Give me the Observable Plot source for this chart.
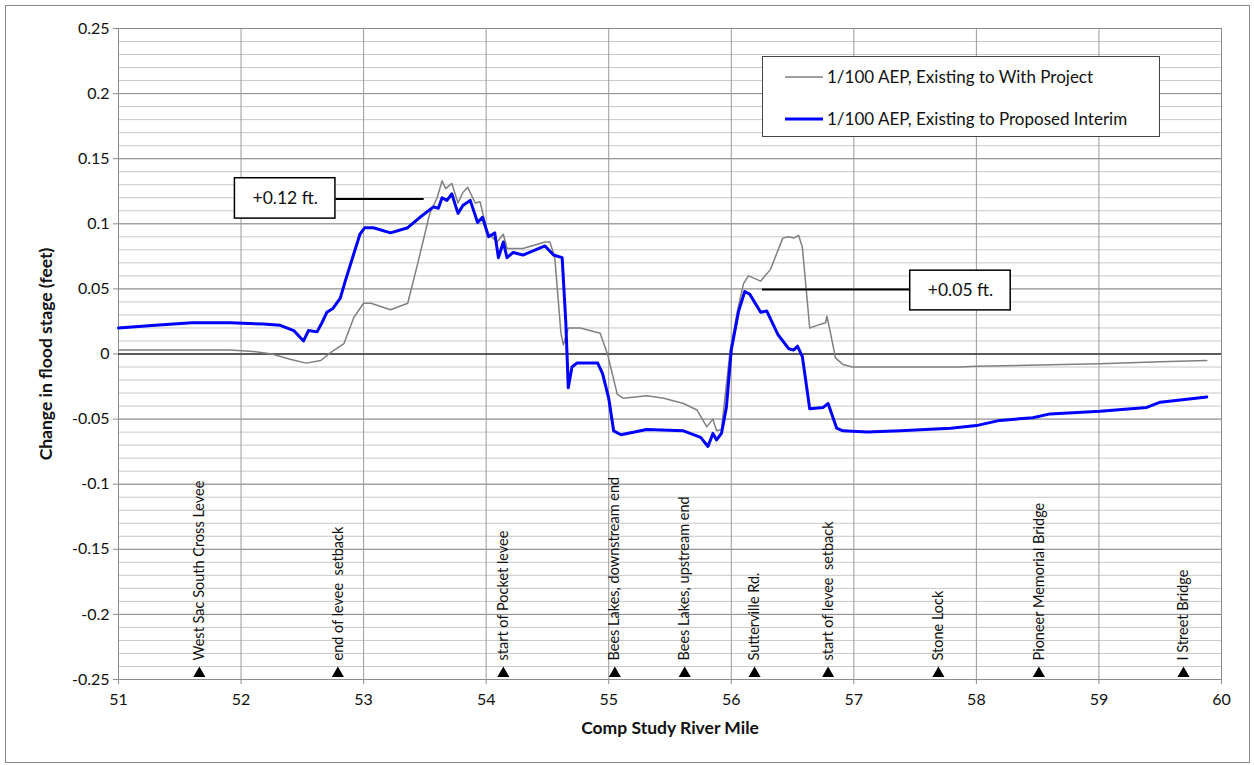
<!DOCTYPE html>
<html>
<head>
<meta charset="utf-8">
<script src="https://cdn.jsdelivr.net/npm/d3@7"></script>
<script src="https://cdn.jsdelivr.net/npm/@observablehq/plot@0.6"></script>
<style>
  html, body { margin: 0; padding: 0; background: #fff; }
  #wrap { position: relative; width: 1254px; height: 765px; font-family: Lato, "Open Sans", sans-serif; }
  #border { position: absolute; left: 5px; top: 5px; width: 1243px; height: 756px; border: 1px solid #8a8a8a; pointer-events: none; }
  #legend { position: absolute; left: 762px; top: 56px; width: 396px; height: 79px; border: 1px solid #444; background: #fff; font-size: 17px; color: #111; }
  .item { position: absolute; left: 22px; display: flex; align-items: center; }
  .item svg { margin-right: 4px; }
</style>
</head>
<body>
<div id="wrap">
  <div id="chart"></div>
  <div id="border"></div>
  <div id="legend"></div>
</div>
<script>
// ---- Data ----
const withProjectMile = [51.00,51.30,51.60,51.91,52.10,52.25,52.40,52.53,52.65,52.73,52.84,52.92,53.00,53.06,53.22,53.36,53.44,53.54,53.60,53.64,53.67,53.72,53.77,53.81,53.85,53.91,53.95,54.01,54.09,54.14,54.17,54.30,54.48,54.52,54.56,54.61,54.63,54.67,54.77,54.93,54.99,55.07,55.12,55.31,55.45,55.61,55.72,55.80,55.85,55.88,55.92,55.99,56.05,56.10,56.14,56.24,56.32,56.42,56.47,56.51,56.55,56.58,56.64,56.70,56.77,56.78,56.81,56.85,56.91,56.99,57.38,57.87,58.00,58.50,59.01,59.50,59.88];
const withProjectChange = [0.003,0.003,0.003,0.003,0.002,0.000,-0.004,-0.007,-0.005,0.001,0.008,0.028,0.039,0.039,0.034,0.039,0.069,0.108,0.120,0.133,0.127,0.131,0.116,0.124,0.128,0.116,0.117,0.093,0.086,0.092,0.081,0.081,0.086,0.086,0.074,0.016,0.007,0.020,0.020,0.016,0.000,-0.031,-0.034,-0.032,-0.034,-0.038,-0.043,-0.056,-0.050,-0.059,-0.058,0.002,0.033,0.054,0.060,0.056,0.065,0.089,0.090,0.089,0.091,0.082,0.020,0.022,0.024,0.029,0.016,-0.003,-0.008,-0.010,-0.010,-0.010,-0.0095,-0.0085,-0.0075,-0.006,-0.005];

const interimMile = [51.00,51.30,51.60,51.91,52.18,52.32,52.43,52.51,52.55,52.62,52.66,52.70,52.75,52.81,52.85,52.92,52.97,53.01,53.08,53.22,53.36,53.46,53.57,53.61,53.64,53.68,53.72,53.77,53.81,53.87,53.93,53.97,54.02,54.07,54.10,54.14,54.17,54.22,54.30,54.48,54.55,54.62,54.65,54.67,54.70,54.74,54.91,54.95,55.00,55.04,55.10,55.31,55.61,55.75,55.81,55.85,55.88,55.92,55.96,56.00,56.06,56.11,56.15,56.24,56.29,56.38,56.47,56.51,56.54,56.58,56.64,56.75,56.79,56.86,56.91,57.11,57.38,57.79,58.00,58.19,58.46,58.60,59.01,59.39,59.50,59.88];
const interimChange = [0.020,0.022,0.024,0.024,0.023,0.022,0.018,0.010,0.018,0.017,0.024,0.032,0.035,0.043,0.056,0.077,0.092,0.097,0.097,0.093,0.097,0.105,0.113,0.112,0.120,0.118,0.123,0.108,0.114,0.118,0.101,0.105,0.090,0.093,0.074,0.086,0.074,0.078,0.076,0.083,0.076,0.074,0.024,-0.026,-0.010,-0.007,-0.007,-0.015,-0.034,-0.059,-0.062,-0.058,-0.059,-0.064,-0.071,-0.061,-0.066,-0.061,-0.041,0.003,0.033,0.048,0.046,0.032,0.033,0.015,0.004,0.003,0.006,-0.002,-0.042,-0.041,-0.038,-0.057,-0.059,-0.060,-0.059,-0.057,-0.055,-0.051,-0.049,-0.046,-0.044,-0.041,-0.037,-0.033];

const seriesNames = ["1/100 AEP, Existing to With Project", "1/100 AEP, Existing to Proposed Interim"];

const landmarkNames = ["West Sac South Cross Levee","end of levee  setback","start of Pocket levee","Bees Lakes, downstream end","Bees Lakes, upstream end","Sutterville Rd.","start of levee  setback","Stone Lock","Pioneer Memorial Bridge","I Street Bridge"];
const landmarkMile = [51.66,52.79,54.14,55.05,55.62,56.19,56.79,57.69,58.51,59.69];

const annLabel = ["+0.12 ft.", "+0.05 ft."];
const annBoxX1 = [51.95, 57.46];
const annBoxX2 = [52.77, 58.28];
const annBoxTop = [0.135, 0.064];
const annBoxBottom = [0.104, 0.0335];
const annLineY = [0.119, 0.0495];
const annLineFrom = [52.77, 56.25];
const annLineTo = [53.49, 57.46];

const xTicks = [51,52,53,54,55,56,57,58,59,60];
const yTicks = [-0.25,-0.2,-0.15,-0.1,-0.05,0,0.05,0.1,0.15,0.2,0.25];
const yTickLabels = ["-0.25","-0.2","-0.15","-0.1","-0.05","0","0.05","0.1","0.15","0.2","0.25"];
const yMinor = d3.range(-25, 26).map(i => i / 100);

const xTitle = "Comp Study River Mile";
const yTitle = "Change in flood stage (feet)";

// ---- Build tables ----
const gray = withProjectMile.map((m, i) => ({mile: m, change: withProjectChange[i]}));
const blue = interimMile.map((m, i) => ({mile: m, change: interimChange[i]}));
const landmarks = landmarkNames.map((n, i) => ({name: n, mile: landmarkMile[i]}));
const anns = annLabel.map((t, i) => ({
  text: t, x1: annBoxX1[i], x2: annBoxX2[i], top: annBoxTop[i], bottom: annBoxBottom[i],
  ly: annLineY[i], lx1: annLineFrom[i], lx2: annLineTo[i]
}));

const chart = Plot.plot({
  width: 1254,
  height: 765,
  marginLeft: 118,
  marginRight: 33,
  marginTop: 28,
  marginBottom: 86,
  style: {fontFamily: "Lato, 'Open Sans', sans-serif", fontSize: "16px", background: "transparent", color: "#111"},
  x: {domain: [51, 60]},
  y: {domain: [-0.25, 0.25]},
  marks: [
    Plot.gridY(yMinor, {stroke: "#c8c8c8", strokeOpacity: 1}),
    Plot.gridY(yTicks, {stroke: "#8c8c8c", strokeOpacity: 1}),
    Plot.gridX(xTicks, {stroke: "#9a9a9a", strokeOpacity: 1}),
    Plot.frame({stroke: "#8c8c8c"}),
    Plot.ruleY([0], {stroke: "#000", strokeWidth: 1}),
    Plot.axisY({ticks: yTicks, tickSize: 5, tickPadding: 4, tickFormat: (d) => yTickLabels[yTicks.indexOf(d)], label: null, stroke: "#8c8c8c", fontSize: 16}),
    Plot.axisX({ticks: xTicks, tickSize: 5, tickPadding: 9, tickFormat: (d) => String(d), label: null, stroke: "#8c8c8c", fontSize: 16}),
    Plot.text([xTitle], {frameAnchor: "bottom", textAnchor: "middle", dy: 54, fontWeight: "bold", fontSize: 17.5}),
    Plot.text([yTitle], {frameAnchor: "left", textAnchor: "middle", dx: -72, rotate: -90, fontWeight: "bold", fontSize: 17.5}),
    Plot.line(gray, {x: "mile", y: "change", stroke: "#808080", strokeWidth: 1.5}),
    Plot.line(blue, {x: "mile", y: "change", stroke: "#0000ff", strokeWidth: 3}),
    Plot.dot(landmarks, {x: "mile", y: () => -0.25, symbol: "triangle", r: 4.5, fill: "#000", stroke: null, dy: -6}),
    Plot.text(landmarks, {x: "mile", y: () => -0.25, text: "name", rotate: -90, textAnchor: "start", dy: -19, fontSize: 14.5, fill: "#111"}),
    Plot.link(anns, {x1: "lx1", x2: "lx2", y1: "ly", y2: "ly", stroke: "#000", strokeWidth: 2}),
    Plot.rect(anns, {x1: "x1", x2: "x2", y1: "bottom", y2: "top", fill: "#fff", stroke: "#000", strokeWidth: 1.5}),
    Plot.text(anns, {x: (d) => (d.x1 + d.x2) / 2, y: (d) => (d.top + d.bottom) / 2, text: "text", fontSize: 17.5, fill: "#111"})
  ]
});
document.getElementById("chart").appendChild(chart);

// ---- Legend ----
const legend = document.getElementById("legend");
const legendStyles = [{color: "#808080", width: 1.5, top: 9}, {color: "#0000ff", width: 3, top: 51}];
seriesNames.forEach((name, i) => {
  const s = legendStyles[i];
  const item = document.createElement("div");
  item.className = "item";
  item.style.top = s.top + "px";
  item.innerHTML = `<svg width="38" height="20"><line x1="0" x2="38" y1="10" y2="10" stroke="${s.color}" stroke-width="${s.width}"/></svg><span>${name}</span>`;
  legend.appendChild(item);
});
</script>
</body>
</html>
